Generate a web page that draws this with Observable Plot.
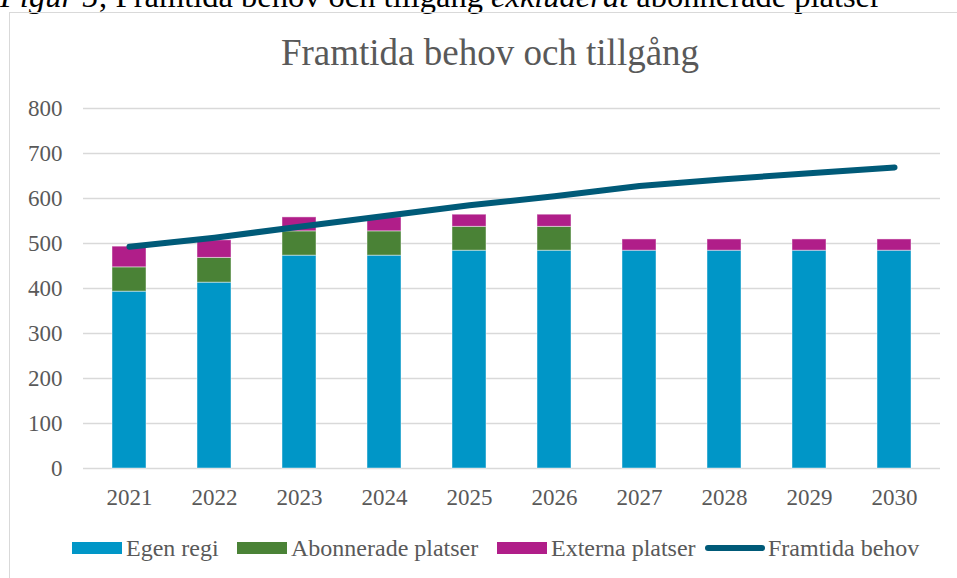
<!DOCTYPE html>
<html>
<head>
<meta charset="utf-8">
<script src="https://cdn.jsdelivr.net/npm/d3@7"></script>
<script src="https://cdn.jsdelivr.net/npm/@observablehq/plot@0.6"></script>
<style>
  html, body { margin: 0; padding: 0; background: #fff; width: 957px; height: 578px; overflow: hidden; }
  body { position: relative; font-family: "Liberation Serif", "Times New Roman", serif; }
  #caption { position: absolute; left: 0; top: -19.7px; font-size: 32.5px; line-height: 1; color: #000; white-space: nowrap; }
  #frame { position: absolute; left: 9px; top: 12px; width: 960px; height: 580px; border: 1.5px solid #D9D9D9; box-sizing: border-box; }
  #title { position: absolute; left: 0; width: 980px; top: 33.5px; text-align: center; font-size: 37px; line-height: 1; color: #595959; white-space: nowrap; }
  #chart { position: absolute; left: 0; top: 0; }
  #chart svg, #chart svg g, #chart svg text { font-family: "Liberation Serif", "Times New Roman", serif !important; font-size: 23px !important; }
  #legend { position: absolute; left: 0; top: 0; font-size: 24px; color: #595959; white-space: nowrap; line-height: 1; }
  .item { position: absolute; top: 535px; display: flex; align-items: center; height: 26px; }
  .sw { width: 50px; height: 12px; margin-right: 4px; }
  .ln { width: 60px; height: 6px; border-radius: 3px; margin-right: 3px; }
</style>
</head>
<body>
<div id="caption"><i>Figur 5</i>; Framtida behov och tillgång <i>exkluderat</i> abonnerade platser</div>
<div id="frame"></div>
<div id="title">Framtida behov och tillgång</div>
<div id="chart"></div>
<div id="legend"></div>
<script>
const years = ["2021","2022","2023","2024","2025","2026","2027","2028","2029","2030"];
const egenRegi = [393, 413, 473, 473, 484, 484, 484, 484, 484, 484];
const abonnerade = [54, 55, 54, 54, 53, 53, 0, 0, 0, 0];
const externa = [46, 39, 31, 31, 27, 27, 25, 25, 25, 25];
const framtidaBehov = [493, 513, 537, 561, 585, 605, 628, 643, 656, 669];
const seriesNames = ["Egen regi", "Abonnerade platser", "Externa platser"];
const lineName = "Framtida behov";
const yTicks = [0, 100, 200, 300, 400, 500, 600, 700, 800];
const colors = ["#0096C7", "#4A8236", "#B01E89"];
const lineColor = "#005A78";
const legendLefts = [72, 237, 497, 705];

const seriesValues = [egenRegi, abonnerade, externa];
const barData = [];
seriesNames.forEach((s, i) => years.forEach((y, j) => barData.push({year: y, series: s, value: seriesValues[i][j]})));
const lineData = years.map((y, j) => ({year: y, value: framtidaBehov[j]}));

const chart = Plot.plot({
  width: 957,
  height: 578,
  marginLeft: 83,
  marginRight: 17,
  marginTop: 108,
  marginBottom: 110,
  style: {fontFamily: "Liberation Serif, Times New Roman, serif", fontSize: "23px", color: "#595959", background: "transparent"},
  x: {domain: years, paddingInner: 0.6, paddingOuter: 0.3, label: null, tickSize: 0, tickPadding: 20},
  y: {domain: [0, 800], ticks: yTicks, label: null, tickSize: 0, tickPadding: 21, grid: false},
  color: {domain: seriesNames, range: colors},
  marks: [
    Plot.ruleY(yTicks, {stroke: "#D9D9D9", strokeWidth: 1.5}),
    Plot.barY(barData, {x: "year", y: "value", fill: "series", order: seriesNames, stroke: "#ffffff", strokeOpacity: 0.45, strokeWidth: 1}),
    Plot.lineY(lineData, {x: "year", y: "value", stroke: lineColor, strokeWidth: 6, strokeLinecap: "round", strokeLinejoin: "round"})
  ]
});
document.getElementById("chart").appendChild(chart);

const legend = document.getElementById("legend");
seriesNames.forEach((s, i) => {
  const it = document.createElement("div"); it.className = "item"; it.style.left = legendLefts[i] + "px";
  it.innerHTML = `<div class="sw" style="background:${colors[i]}"></div><span>${s}</span>`;
  legend.appendChild(it);
});
const li = document.createElement("div"); li.className = "item"; li.style.left = legendLefts[3] + "px";
li.innerHTML = `<div class="ln" style="background:${lineColor}"></div><span>${lineName}</span>`;
legend.appendChild(li);
</script>
</body>
</html>
